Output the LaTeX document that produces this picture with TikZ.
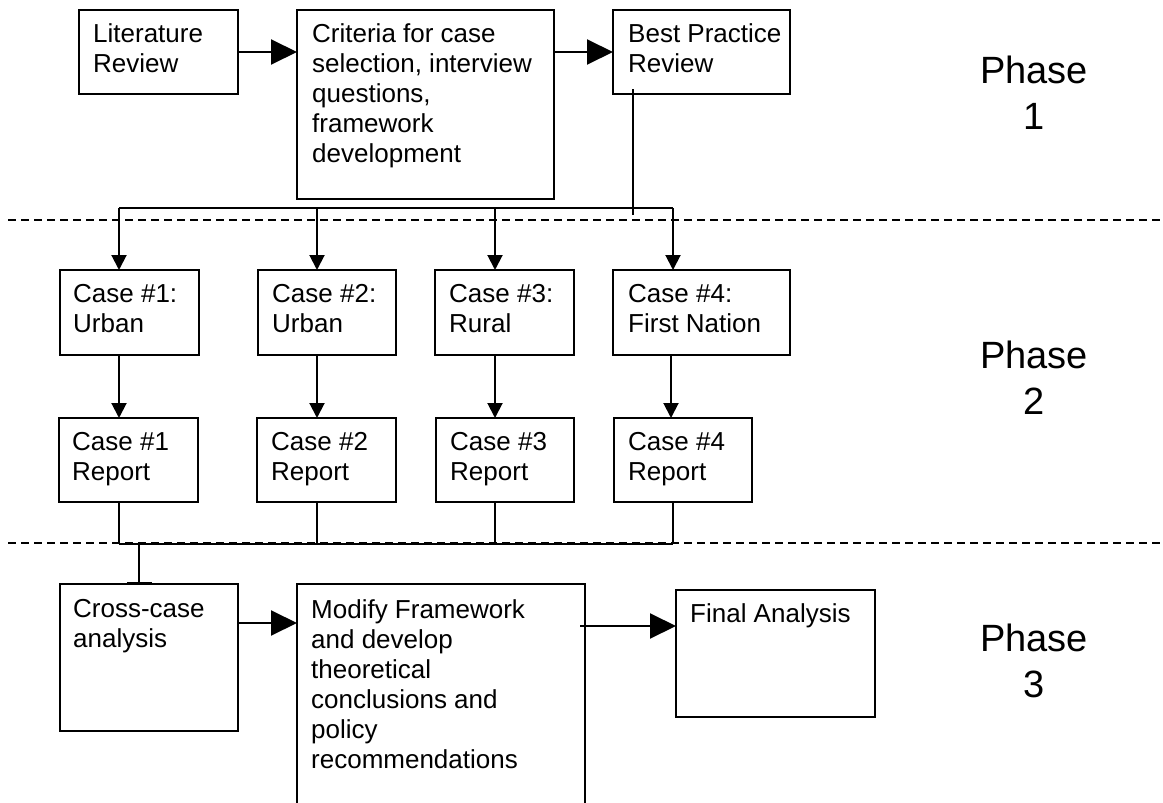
\documentclass[tikz,border=0pt]{standalone}
\usepackage{fontspec}
\setmainfont{Liberation Sans}
\usetikzlibrary{arrows.meta}
\begin{document}
\begin{tikzpicture}[x=1pt,y=-1pt,
  box/.style={draw, line width=2pt, inner sep=0pt, outer sep=0pt, anchor=north west},
  txt/.style={anchor=north west, inner sep=0pt, align=left, font=\fontsize{26}{30}\selectfont},
  phase/.style={anchor=north, inner sep=0pt, align=center, font=\fontsize{38}{46}\selectfont},
  conn/.style={line width=2pt},
  bigarrow/.style={conn, -{Triangle[length=26pt,width=25pt]}},
  smallarrow/.style={conn, -{Triangle[length=15pt,width=15pt]}},
  teearrow/.style={conn, -{Bar[width=25pt]}},
  phaseline/.style={line width=1.5pt, dash pattern=on 8pt off 5pt},
]
\useasboundingbox (0,0) rectangle (1163,803);
\fill[white] (0,0) rectangle (1163,803);

% phase separators
\draw[phaseline] (8,220) -- (1163,220);
\draw[phaseline] (8,543) -- (1163,543);

% Phase 1 boxes
\node[box, minimum width=159pt, minimum height=84pt] (lit) at (79,10) {};
\node[txt] (litT) at ([xshift=14pt,yshift=-13pt]lit.north west) {Literature\\Review};
\node[box, minimum width=257pt, minimum height=189pt] (crit) at (297,10) {};
\node[txt] (critT) at ([xshift=15pt,yshift=-13pt]crit.north west) {Criteria for case\\selection, interview\\questions,\\framework\\development};
\node[box, minimum width=177pt, minimum height=84pt] (best) at (613,10) {};
\node[txt] (bestT) at ([xshift=15pt,yshift=-13pt]best.north west) {Best Practice\\Review};

\draw[bigarrow] (lit.east) -- (lit.east -| crit.west);
\draw[bigarrow] (best.west -| crit.east) -- (best.west);

% Phase 2 boxes
\node[box, minimum width=139pt, minimum height=85pt] (c1) at (60,270) {};
\node[txt] (c1T) at ([xshift=13pt,yshift=-14pt]c1.north west) {Case \#1:\\Urban};
\node[box, minimum width=138pt, minimum height=85pt] (c2) at (258,270) {};
\node[txt] (c2T) at ([xshift=14pt,yshift=-14pt]c2.north west) {Case \#2:\\Urban};
\node[box, minimum width=139pt, minimum height=85pt] (c3) at (435,270) {};
\node[txt] (c3T) at ([xshift=14pt,yshift=-14pt]c3.north west) {Case \#3:\\Rural};
\node[box, minimum width=177pt, minimum height=85pt] (c4) at (613,270) {};
\node[txt] (c4T) at ([xshift=15pt,yshift=-14pt]c4.north west) {Case \#4:\\First Nation};

\node[box, minimum width=139pt, minimum height=84pt] (r1) at (59,418) {};
\node[txt] (r1T) at ([xshift=13pt,yshift=-14pt]r1.north west) {Case \#1\\Report};
\node[box, minimum width=139pt, minimum height=84pt] (r2) at (257,418) {};
\node[txt] (r2T) at ([xshift=14pt,yshift=-14pt]r2.north west) {Case \#2\\Report};
\node[box, minimum width=138pt, minimum height=84pt] (r3) at (436,418) {};
\node[txt] (r3T) at ([xshift=14pt,yshift=-14pt]r3.north west) {Case \#3\\Report};
\node[box, minimum width=138pt, minimum height=84pt] (r4) at (614,418) {};
\node[txt] (r4T) at ([xshift=14pt,yshift=-14pt]r4.north west) {Case \#4\\Report};

% distribution bar from Best Practice
\coordinate (b1) at (119,208);
\coordinate (b2) at (317,208);
\coordinate (b3) at (495,208);
\coordinate (b4) at (673,208);
\coordinate (bp) at ([shift={(20,-5)}]best.south west);
\draw[conn] (bp) -- ++(0,126);
\draw[conn] (b1) -- (b4);
\draw[smallarrow] (b1) -- (b1 |- c1.north);
\draw[smallarrow] (b2) -- (b2 |- c2.north);
\draw[smallarrow] (b3) -- (b3 |- c3.north);
\draw[smallarrow] (b4) -- (b4 |- c4.north);

% case to report
\draw[smallarrow] (b1 |- c1.south) -- (b1 |- r1.north);
\draw[smallarrow] (b2 |- c2.south) -- (b2 |- r2.north);
\draw[smallarrow] (b3 |- c3.south) -- (b3 |- r3.north);
\coordinate (b4r) at (671,208);
\draw[smallarrow] (b4r |- c4.south) -- (b4r |- r4.north);

% reports to collection bar
\coordinate (d1) at (119,544);
\coordinate (d2) at (317,544);
\coordinate (d3) at (495,544);
\coordinate (d4) at (673,544);
\draw[conn] (d1 |- r1.south) -- (d1);
\draw[conn] (d2 |- r2.south) -- (d2);
\draw[conn] (d3 |- r3.south) -- (d3);
\draw[conn] (d4 |- r4.south) -- (d4);
\draw[conn] (d1) -- (d4);

% Phase 3 boxes
\node[box, minimum width=178pt, minimum height=147pt] (cross) at (60,584) {};
\node[txt] (crossT) at ([xshift=13pt,yshift=-15pt]cross.north west) {Cross-case\\analysis};
\node[box, minimum width=288pt, minimum height=240pt] (mod) at (297,584) {};
\node[txt] (modT) at ([xshift=14pt,yshift=-15pt]mod.north west) {Modify Framework\\and develop\\theoretical\\conclusions and\\policy\\recommendations};
\node[box, minimum width=199pt, minimum height=127pt] (fin) at (676,590) {};
\node[txt] (finT) at ([xshift=14pt,yshift=-13pt]fin.north west) {Final Analysis};

\coordinate (tee) at (139,544);
\draw[teearrow] (tee) -- (tee |- cross.north);
\coordinate (a1) at ([yshift=-39pt]cross.north east);
\draw[bigarrow] (a1) -- (a1 -| mod.west);
\coordinate (a2) at (580,626);
\draw[bigarrow] (a2) -- (a2 -| fin.west);

% phase labels
\node[phase] (p1) at (1034,56) {Phase\\1};
\node[phase] (p2) at (1034,341) {Phase\\2};
\node[phase] (p3) at (1034,624) {Phase\\3};
\end{tikzpicture}
\end{document}
